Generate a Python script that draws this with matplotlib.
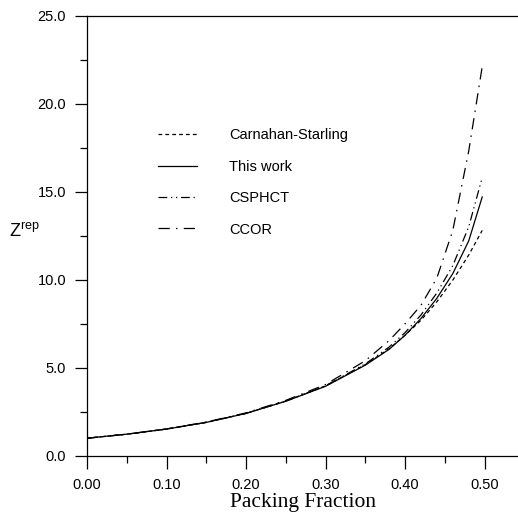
import matplotlib

matplotlib.use("Agg")
import matplotlib.pyplot as plt
from matplotlib.ticker import MultipleLocator, FormatStrFormatter

# packing fraction grid and compressibility factor for each model
eta = [0.00, 0.05, 0.10, 0.15, 0.20, 0.25, 0.30, 0.35, 0.38, 0.40, 0.42, 0.44, 0.46, 0.48, 0.497]
z_cs = [1.00, 1.23, 1.52, 1.90, 2.41, 3.11, 3.97, 5.18, 6.08, 6.85, 7.70, 8.75, 9.98, 11.40, 12.80]
z_this = [1.00, 1.23, 1.52, 1.90, 2.41, 3.10, 3.95, 5.15, 6.05, 6.85, 7.80, 8.95, 10.35, 12.20, 14.70]
z_csphct = [1.00, 1.23, 1.52, 1.90, 2.41, 3.11, 3.98, 5.22, 6.18, 7.00, 8.00, 9.25, 10.80, 13.00, 15.80]
z_ccor = [1.00, 1.23, 1.53, 1.92, 2.44, 3.15, 4.05, 5.40, 6.55, 7.50, 8.55, 10.10, 12.80, 17.30, 22.10]

labels = ["Carnahan-Starling", "This work", "CSPHCT", "CCOR"]

fig = plt.figure(figsize=(5.18, 5.18), dpi=100)
ax = fig.add_axes([0.168, 0.12, 0.832, 0.85])

lw = 0.9
ax.plot(eta, z_cs, color="black", lw=lw, dashes=(3, 2.5), label=labels[0])
ax.plot(eta, z_this, color="black", lw=lw, label=labels[1])
ax.plot(eta, z_csphct, color="black", lw=lw, dashes=(7, 3, 1, 3, 1, 3), label=labels[2])
ax.plot(eta, z_ccor, color="black", lw=lw, dashes=(9, 5, 1.2, 5), label=labels[3])

ax.set_xlim(0, 0.542)
ax.set_ylim(0, 25)

ax.xaxis.set_major_locator(MultipleLocator(0.1))
ax.xaxis.set_minor_locator(MultipleLocator(0.05))
ax.yaxis.set_major_locator(MultipleLocator(5))
ax.yaxis.set_minor_locator(MultipleLocator(2.5))
ax.xaxis.set_major_formatter(FormatStrFormatter("%.2f"))
ax.yaxis.set_major_formatter(FormatStrFormatter("%.1f"))

ax.tick_params(which="major", direction="out", length=9, width=0.9, labelsize=10.5,
               top=False, right=False)
ax.tick_params(which="minor", direction="out", length=5, width=0.9,
               top=False, right=False)
ax.tick_params(axis="x", which="major", pad=7)
ax.tick_params(axis="y", which="major", pad=6)
for lab in ax.get_xticklabels() + ax.get_yticklabels():
    lab.set_family("Liberation Sans")

ax.spines["right"].set_visible(False)
for s in ("left", "bottom", "top"):
    ax.spines[s].set_linewidth(0.9)

ax.set_xlabel("Packing Fraction", family="Liberation Serif", fontsize=15.5, labelpad=1)
ax.set_ylabel(r"$\mathregular{Z^{rep}}$", family="Liberation Sans", fontsize=13,
              rotation=0, va="center")
ax.yaxis.set_label_coords(-0.146, 0.509)

ax.legend(loc="upper left", bbox_to_anchor=(0.305, 0.752), bbox_transform=fig.transFigure,
          frameon=False, prop={"family": "Liberation Sans", "size": 10.5},
          handlelength=2.7, handletextpad=2.2, labelspacing=1.19,
          borderpad=0, borderaxespad=0)

fig.savefig("out.png", dpi=100)
